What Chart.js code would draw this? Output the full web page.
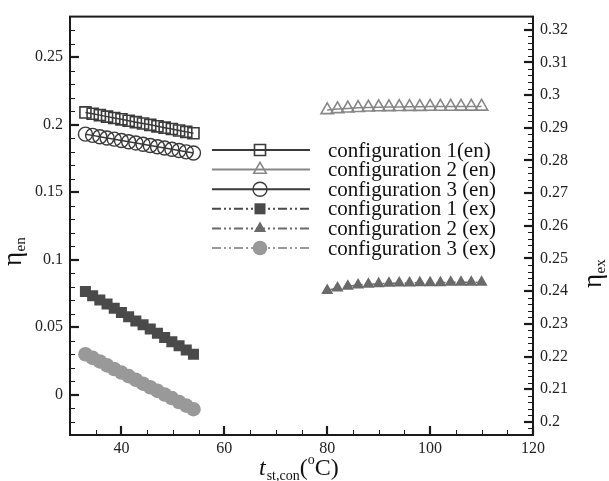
<!DOCTYPE html>
<html><head><meta charset="utf-8">
<script src="https://cdn.jsdelivr.net/npm/chart.js@4.4.0/dist/chart.umd.min.js"></script>
<style>html,body{margin:0;padding:0;background:#fff;}canvas{display:block;}</style>
</head><body>
<canvas id="c" width="609" height="481"></canvas>
<script>
// ---- data ----
const xLeft  = [33, 34.4, 35.8, 37.2, 38.6, 40, 41.4, 42.8, 44.2, 45.6, 47, 48.4, 49.8, 51.2, 52.6, 54];
const xRight = [80, 82, 84, 86, 88, 90, 92, 94, 96, 98, 100, 102, 104, 106, 108, 110];
const cfg1En = [0.2090, 0.2080, 0.2070, 0.2059, 0.2049, 0.2039, 0.2028, 0.2018, 0.2008, 0.1998, 0.1987, 0.1977, 0.1967, 0.1956, 0.1946, 0.1936];
const cfg2En = [0.2108, 0.2115, 0.2120, 0.2124, 0.2127, 0.2129, 0.2130, 0.2131, 0.2132, 0.2132, 0.2133, 0.2133, 0.2133, 0.2134, 0.2134, 0.2134];
const cfg3En = [0.1929, 0.1920, 0.1910, 0.1901, 0.1892, 0.1882, 0.1873, 0.1864, 0.1854, 0.1845, 0.1836, 0.1826, 0.1817, 0.1808, 0.1798, 0.1789];
const cfg1Ex = [0.2399, 0.2386, 0.2373, 0.2361, 0.2348, 0.2335, 0.2322, 0.2309, 0.2297, 0.2284, 0.2271, 0.2258, 0.2245, 0.2233, 0.2220, 0.2207];
const cfg2Ex = [0.2402, 0.2410, 0.2415, 0.2419, 0.2421, 0.2423, 0.2424, 0.2425, 0.2425, 0.2426, 0.2426, 0.2426, 0.2427, 0.2427, 0.2427, 0.2427];
const cfg3Ex = [0.2207, 0.2196, 0.2185, 0.2173, 0.2162, 0.2151, 0.2140, 0.2129, 0.2117, 0.2106, 0.2095, 0.2084, 0.2073, 0.2061, 0.2050, 0.2039];
const seriesLabels = ['configuration 1(en)', 'configuration 2 (en)', 'configuration 3 (en)',
                      'configuration 1 (ex)', 'configuration 2 (ex)', 'configuration 3 (ex)'];
const xTicks  = [40, 60, 80, 100, 120];
const enTicks = [0, 0.05, 0.1, 0.15, 0.2, 0.25];
const exTicks = [0.2, 0.21, 0.22, 0.23, 0.24, 0.25, 0.26, 0.27, 0.28, 0.29, 0.3, 0.31, 0.32];

const SERIF = "'Liberation Serif', 'DejaVu Serif', serif";
const DASH = [9, 3, 2, 3, 2, 3];

function pts(xs, ys) { return xs.map((x, i) => ({x: x, y: ys[i]})); }

const styles = [
  {data: pts(xLeft, cfg1En),  axis: 'y',  shape: 'rect',     r: 7.8, fill: 'rgba(0,0,0,0)', stroke: '#3a3a3a', bw: 1.6, line: '#3a3a3a', dash: []},
  {data: pts(xRight, cfg2En), axis: 'y',  shape: 'triangle', r: 7.2, fill: 'rgba(0,0,0,0)', stroke: '#878787', bw: 1.6, line: '#878787', dash: []},
  {data: pts(xLeft, cfg3En),  axis: 'y',  shape: 'circle',   r: 7,   fill: 'rgba(0,0,0,0)', stroke: '#3a3a3a', bw: 1.4, line: '#3a3a3a', dash: []},
  {data: pts(xLeft, cfg1Ex),  axis: 'y2', shape: 'rect',     r: 7.8, fill: '#4a4a4a', stroke: '#4a4a4a', bw: 0, line: '#4a4a4a', dash: DASH},
  {data: pts(xRight, cfg2Ex), axis: 'y2', shape: 'triangle', r: 7,   fill: '#6a6a6a', stroke: '#6a6a6a', bw: 0, line: '#6a6a6a', dash: DASH},
  {data: pts(xLeft, cfg3Ex),  axis: 'y2', shape: 'circle',   r: 7.3, fill: '#999999', stroke: '#999999', bw: 0, line: '#999999', dash: DASH}
];

const datasets = styles.map((s, i) => ({
  label: seriesLabels[i], data: s.data, yAxisID: s.axis, showLine: true,
  borderColor: s.line, borderWidth: 1.5, borderDash: s.dash,
  pointStyle: s.shape, pointRadius: s.r, pointBorderWidth: s.bw,
  pointBackgroundColor: s.fill, pointBorderColor: s.stroke,
  pointHoverRadius: s.r
}));

function marker(ctx, s, x, y, r) {
  ctx.save();
  ctx.setLineDash([]);
  ctx.fillStyle = s.fill; ctx.strokeStyle = s.stroke; ctx.lineWidth = s.bw;
  ctx.beginPath();
  if (s.shape === 'rect') { const h = Math.SQRT1_2 * r; ctx.rect(x - h, y - h, 2 * h, 2 * h); }
  else if (s.shape === 'triangle') {
    ctx.moveTo(x, y - r);
    ctx.lineTo(x + Math.sin(2 * Math.PI / 3) * r, y - Math.cos(2 * Math.PI / 3) * r);
    ctx.lineTo(x + Math.sin(4 * Math.PI / 3) * r, y - Math.cos(4 * Math.PI / 3) * r);
    ctx.closePath();
  } else { ctx.arc(x, y, r, 0, Math.PI * 2); }
  ctx.fill();
  if (s.bw > 0) ctx.stroke();
  ctx.restore();
}

const decor = {
  id: 'decor',
  afterDraw(chart) {
    const ctx = chart.ctx, a = chart.chartArea;
    const sx = chart.scales.x, sy = chart.scales.y, sy2 = chart.scales.y2;
    ctx.save();
    ctx.strokeStyle = '#1a1a1a';
    // frame
    ctx.lineWidth = 2;
    ctx.strokeRect(a.left, a.top, a.right - a.left, a.bottom - a.top);
    function hTick(x0, dir, y, len, lw) { ctx.lineWidth = lw; ctx.beginPath(); ctx.moveTo(x0, y); ctx.lineTo(x0 + dir * len, y); ctx.stroke(); }
    function vTick(x, len, lw) { ctx.lineWidth = lw; ctx.beginPath(); ctx.moveTo(x, a.bottom); ctx.lineTo(x, a.bottom - len); ctx.stroke(); }
    // left axis ticks
    enTicks.forEach(v => hTick(a.left, 1, Math.round(sy.getPixelForValue(v)), 9, 2.2));
    for (let i = -2; i <= 27; i++) if (i % 5 !== 0) hTick(a.left, 1, Math.round(sy.getPixelForValue(i / 100)) + 0.5, 5, 1);
    // right axis ticks
    exTicks.forEach(v => hTick(a.right, -1, Math.round(sy2.getPixelForValue(v)), 9, 2.2));
    for (let i = 99; i <= 161; i++) if (i % 5 !== 0) hTick(a.right, -1, Math.round(sy2.getPixelForValue(i * 0.002)) + 0.5, 5, 1);
    // bottom ticks
    xTicks.forEach(v => vTick(Math.round(sx.getPixelForValue(v)), 9, 2.2));
    for (let v = 35; v < 120; v += 5) if (v % 20 !== 0) vTick(Math.round(sx.getPixelForValue(v)) + 0.5, 5, 1);

    // legend
    const y0 = 150, dy = 19.6;
    styles.forEach((s, i) => {
      const y = y0 + i * dy;
      ctx.save();
      ctx.strokeStyle = s.line; ctx.lineWidth = 2; ctx.setLineDash(s.dash);
      ctx.beginPath(); ctx.moveTo(212, y); ctx.lineTo(310, y); ctx.stroke();
      ctx.restore();
      marker(ctx, s, 260, y, s.r);
      ctx.fillStyle = '#111';
      ctx.font = '21px ' + SERIF;
      ctx.textBaseline = 'middle'; ctx.textAlign = 'left';
      ctx.fillText(seriesLabels[i], 328, y + 1);
    });

    // axis titles
    ctx.fillStyle = '#111';
    ctx.textBaseline = 'alphabetic'; ctx.textAlign = 'left';
    // left: eta_en
    ctx.save();
    ctx.translate(21, 266); ctx.rotate(-Math.PI / 2);
    ctx.font = '27px ' + SERIF; ctx.fillText('η', 0, 0);
    let w = ctx.measureText('η').width;
    ctx.font = '15px ' + SERIF; ctx.fillText('en', w + 0.5, 4);
    ctx.restore();
    // right: eta_ex
    ctx.save();
    ctx.translate(601, 288); ctx.rotate(-Math.PI / 2);
    ctx.font = '27px ' + SERIF; ctx.fillText('η', 0, 0);
    w = ctx.measureText('η').width;
    ctx.font = '15px ' + SERIF; ctx.fillText('ex', w + 0.5, 4);
    ctx.restore();
    // bottom: t_st,con (°C)
    let x = 259;
    const base = 475;
    ctx.font = 'italic 24px ' + SERIF; ctx.fillText('t', x, base); x += ctx.measureText('t').width + 1;
    ctx.font = '14px ' + SERIF; ctx.fillText('st,con', x, base + 5); x += ctx.measureText('st,con').width;
    ctx.font = '24px ' + SERIF; ctx.fillText('(', x, base); x += ctx.measureText('(').width;
    ctx.font = '14px ' + SERIF; ctx.fillText('o', x, base - 11); x += ctx.measureText('o').width;
    ctx.font = '24px ' + SERIF; ctx.fillText('C)', x, base);
    ctx.restore();
  }
};

const tickFont = {family: SERIF, size: 16};
const fmt = v => String(Number(Number(v).toFixed(3)));

new Chart(document.getElementById('c'), {
  type: 'scatter',
  data: {datasets: datasets},
  plugins: [decor],
  options: {
    responsive: false, animation: false, devicePixelRatio: 1,
    layout: {padding: {top: 14, left: 0, right: 0, bottom: 0}},
    plugins: {legend: {display: false}, tooltip: {enabled: false}},
    scales: {
      x: {
        type: 'linear', position: 'bottom', min: 30, max: 120,
        grid: {display: false, drawTicks: false}, border: {display: false},
        afterBuildTicks: s => { s.ticks = xTicks.map(v => ({value: v})); },
        afterFit: s => { s.height = 46; },
        ticks: {font: tickFont, color: '#222', padding: 4, maxRotation: 0, autoSkip: false, callback: fmt}
      },
      y: {
        type: 'linear', position: 'left', min: -0.03, max: 0.28,
        grid: {display: false, drawTicks: false}, border: {display: false},
        afterBuildTicks: s => { s.ticks = enTicks.map(v => ({value: v})); },
        afterFit: s => { s.width = 70; },
        ticks: {font: tickFont, color: '#222', padding: 7, autoSkip: false, callback: fmt}
      },
      y2: {
        type: 'linear', position: 'right', min: 0.196, max: 0.324,
        grid: {display: false, drawTicks: false}, border: {display: false},
        afterBuildTicks: s => { s.ticks = exTicks.map(v => ({value: v})); },
        afterFit: s => { s.width = 76; },
        ticks: {font: tickFont, color: '#222', padding: 7, autoSkip: false, callback: fmt}
      }
    }
  }
});
</script>
</body></html>
